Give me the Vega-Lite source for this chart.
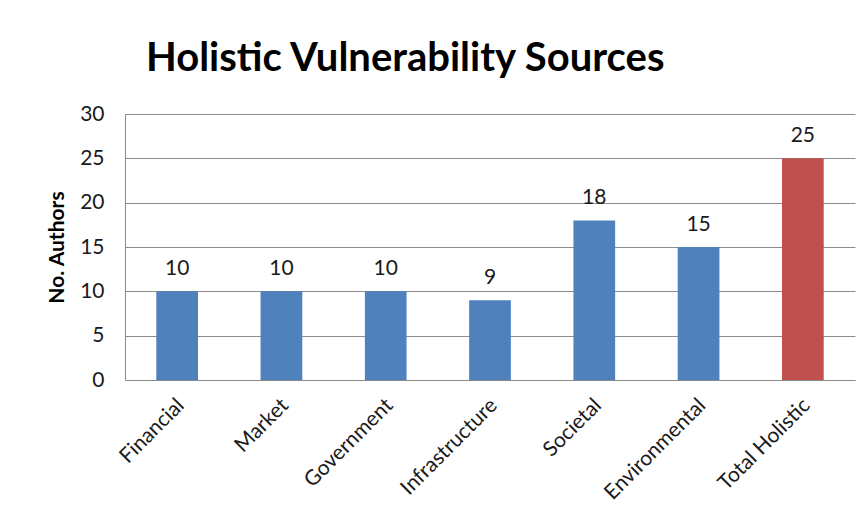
{
  "$schema": "https://vega.github.io/schema/vega-lite/v6.json",
  "width": 730,
  "height": 266,
  "autosize": {"type": "none"},
  "padding": {"left": 125, "top": 114, "right": 9, "bottom": 146},
  "background": "white",
  "title": {
    "text": "Holistic Vulnerability Sources",
    "anchor": "start",
    "frame": "group",
    "dx": 21,
    "offset": -8,
    "baseline": "alphabetic",
    "font": "Lato",
    "fontSize": 40,
    "fontWeight": "bold",
    "color": "#000000"
  },
  "data": {
    "values": [
      {"source": "Financial", "authors": 10, "group": "part"},
      {"source": "Market", "authors": 10, "group": "part"},
      {"source": "Government", "authors": 10, "group": "part"},
      {"source": "Infrastructure", "authors": 9, "group": "part"},
      {"source": "Societal", "authors": 18, "group": "part"},
      {"source": "Environmental", "authors": 15, "group": "part"},
      {"source": "Total Holistic", "authors": 25, "group": "total"}
    ]
  },
  "encoding": {
    "x": {
      "field": "source",
      "type": "nominal",
      "sort": null,
      "scale": {"paddingInner": 0.6, "paddingOuter": 0.3},
      "axis": {
        "title": null,
        "labelAngle": -45,
        "labelAlign": "right",
        "labelBaseline": "middle",
        "labelFont": "Lato",
        "labelFontSize": 21,
        "labelColor": "#1a1a1a",
        "labelPadding": 22,
        "labelOffset": 4,
        "ticks": false,
        "domainColor": "#8c8c8c",
        "domainWidth": 1
      }
    },
    "y": {
      "field": "authors",
      "type": "quantitative",
      "scale": {"domain": [0, 30], "nice": false},
      "axis": {
        "title": "No. Authors",
        "titleFont": "Lato",
        "titleFontSize": 21,
        "titleFontWeight": "bold",
        "titleColor": "#000000",
        "titlePadding": 12,
        "values": [0, 5, 10, 15, 20, 25, 30],
        "labelFont": "Lato",
        "labelFontSize": 21,
        "labelColor": "#1a1a1a",
        "labelPadding": 21,
        "ticks": false,
        "grid": true,
        "gridColor": "#8c8c8c",
        "gridWidth": 1,
        "domainColor": "#8c8c8c",
        "domainWidth": 1
      }
    }
  },
  "layer": [
    {
      "mark": {"type": "bar"},
      "encoding": {
        "color": {
          "field": "group",
          "type": "nominal",
          "scale": {"domain": ["part", "total"], "range": ["#4F81BD", "#C0504D"]},
          "legend": null
        }
      }
    },
    {
      "mark": {"type": "text", "baseline": "alphabetic", "dy": -16, "font": "Lato", "fontSize": 21, "color": "#1a1a1a"},
      "encoding": {"text": {"field": "authors", "type": "quantitative"}}
    }
  ],
  "config": {"view": {"stroke": null}}
}
